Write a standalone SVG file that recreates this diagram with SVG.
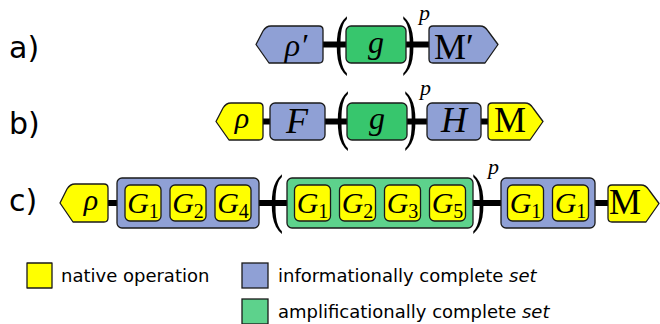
<svg xmlns="http://www.w3.org/2000/svg" width="660" height="324" viewBox="0 0 660 324">
<style>
.blue{fill:#8fa0d5;stroke:#1a1a1a;stroke-width:1.3;stroke-linejoin:round}
.yel{fill:#ffff00;stroke:#1a1a1a;stroke-width:1.3;stroke-linejoin:round}
.grn{fill:#37c66d;stroke:#1a1a1a;stroke-width:1.3;stroke-linejoin:round}
.lgrn{fill:#5dd28c;stroke:#1a1a1a;stroke-width:1.3;stroke-linejoin:round}
.bar{stroke:#000;stroke-width:6;fill:none}
.m{font-family:"Liberation Serif","Times New Roman",serif;font-style:italic;fill:#000;text-anchor:middle}
.rm{font-family:"Liberation Serif","Times New Roman",serif;fill:#000;text-anchor:middle}
.sub{font-style:normal;font-size:20px}
.par{font-family:"Liberation Serif","Times New Roman",serif;font-size:66px;fill:#000}
.sup{font-family:"Liberation Serif","Times New Roman",serif;font-style:italic;font-size:22px;fill:#000}
.lbl{font-family:"DejaVu Sans",Verdana,sans-serif;font-size:30px;fill:#000}
.leg{font-family:"DejaVu Sans",Verdana,sans-serif;font-size:18px;fill:#000}
</style>

<g id="row-labels">
<text class="lbl" x="9" y="58">a)</text>
<text class="lbl" x="9" y="134">b)</text>
<text class="lbl" x="9" y="211">c)</text>
</g>

<g id="connectors">
<line class="bar" x1="323" y1="44.5" x2="346" y2="44.5"/>
<line class="bar" x1="406" y1="44.5" x2="429" y2="44.5"/>
<line class="bar" x1="263" y1="121.5" x2="270" y2="121.5"/>
<line class="bar" x1="325" y1="121.5" x2="347" y2="121.5"/>
<line class="bar" x1="407" y1="121.5" x2="427" y2="121.5"/>
<line class="bar" x1="481" y1="121.5" x2="488" y2="121.5"/>
<line class="bar" x1="108" y1="203" x2="117" y2="203"/>
<line class="bar" x1="259" y1="203" x2="287" y2="203"/>
<line class="bar" x1="473" y1="203" x2="501" y2="203"/>
<line class="bar" x1="595" y1="203" x2="608" y2="203"/>
</g>

<!-- Row a -->
<g id="a-rho">
<path class="blue" d="M319,26 L271,26 Q266,26 263,31 L256,44.5 L269,63 L319,63 Q323,63 323,59 L323,30 Q323,26 319,26 Z"/>
<text class="m" x="296" y="56" font-size="32">ρ′</text>
</g>
<g id="a-g">
<rect class="grn" x="346" y="26" width="60" height="37" rx="5"/>
<text class="m" x="376" y="53" font-size="32">g</text>
</g>
<g id="a-paren">
<text class="par" transform="translate(335,62) scale(0.6,1)">(</text>
<text class="par" transform="translate(402,62) scale(0.6,1)">)</text>
<text class="sup" x="419" y="20">p</text>
</g>
<g id="a-M">
<path class="blue" d="M433,26 L480,26 Q485,26 488,31 L498,44.5 L485,63 L433,63 Q429,63 429,59 L429,30 Q429,26 433,26 Z"/>
<text class="rm" x="454" y="59" font-size="36">M′</text>
</g>

<!-- Row b -->
<g id="b-rho">
<path class="yel" d="M259,103 L231,103 Q226,103 223,108 L216,121.5 L229,140 L259,140 Q263,140 263,136 L263,107 Q263,103 259,103 Z"/>
<text class="m" x="242" y="128" font-size="30">ρ</text>
</g>
<g id="b-F">
<rect class="blue" x="270" y="103" width="55" height="37" rx="5"/>
<text class="m" x="297" y="133" font-size="36">F</text>
</g>
<g id="b-g">
<rect class="grn" x="347" y="103" width="60" height="37" rx="5"/>
<text class="m" x="377" y="129" font-size="32">g</text>
</g>
<g id="b-paren">
<text class="par" transform="translate(336,137) scale(0.6,1)">(</text>
<text class="par" transform="translate(404,137) scale(0.6,1)">)</text>
<text class="sup" x="420" y="95">p</text>
</g>
<g id="b-H">
<rect class="blue" x="427" y="103" width="54" height="37" rx="5"/>
<text class="m" x="454" y="132" font-size="36">H</text>
</g>
<g id="b-M">
<path class="yel" d="M492,103 L525,103 Q530,103 533,108 L543,121.5 L530,140 L492,140 Q488,140 488,136 L488,107 Q488,103 492,103 Z"/>
<text class="rm" x="510" y="132" font-size="36">M</text>
</g>

<!-- Row c -->
<g id="c-rho">
<path class="yel" d="M104,184 L75,184 Q70,184 67,189 L60,203 L73,222 L104,222 Q108,222 108,218 L108,188 Q108,184 104,184 Z"/>
<text class="m" x="91" y="210" font-size="30">ρ</text>
</g>
<g id="c-set1">
<rect class="blue" x="117" y="178" width="142" height="50" rx="5"/>
<rect class="yel" x="125" y="185" width="36" height="36" rx="5"/>
<text class="m" x="143" y="213" font-size="30">G<tspan class="sub" dy="5">1</tspan></text>
<rect class="yel" x="170" y="185" width="36" height="36" rx="5"/>
<text class="m" x="188" y="213" font-size="30">G<tspan class="sub" dy="5">2</tspan></text>
<rect class="yel" x="215" y="185" width="36" height="36" rx="5"/>
<text class="m" x="233" y="213" font-size="30">G<tspan class="sub" dy="5">4</tspan></text>
</g>
<g id="c-paren">
<text class="par" transform="translate(270,220) scale(0.6,1)">(</text>
<text class="par" transform="translate(472,220) scale(0.6,1)">)</text>
<text class="sup" x="488" y="174">p</text>
</g>
<g id="c-set2">
<rect class="lgrn" x="287" y="178" width="186" height="50" rx="5"/>
<rect class="yel" x="294.5" y="185" width="36" height="36" rx="5"/>
<text class="m" x="312.5" y="213" font-size="30">G<tspan class="sub" dy="5">1</tspan></text>
<rect class="yel" x="339.5" y="185" width="36" height="36" rx="5"/>
<text class="m" x="357.5" y="213" font-size="30">G<tspan class="sub" dy="5">2</tspan></text>
<rect class="yel" x="384.5" y="185" width="36" height="36" rx="5"/>
<text class="m" x="402.5" y="213" font-size="30">G<tspan class="sub" dy="5">3</tspan></text>
<rect class="yel" x="429.5" y="185" width="36" height="36" rx="5"/>
<text class="m" x="447.5" y="213" font-size="30">G<tspan class="sub" dy="5">5</tspan></text>
</g>
<g id="c-set3">
<rect class="blue" x="501" y="178" width="94" height="50" rx="5"/>
<rect class="yel" x="507.5" y="185" width="36" height="36" rx="5"/>
<text class="m" x="525.5" y="213" font-size="30">G<tspan class="sub" dy="5">1</tspan></text>
<rect class="yel" x="552.5" y="185" width="36" height="36" rx="5"/>
<text class="m" x="570.5" y="213" font-size="30">G<tspan class="sub" dy="5">1</tspan></text>
</g>
<g id="c-M">
<path class="yel" d="M612,185 L641,185 Q646,185 649,190 L659,203.5 L646,222 L612,222 Q608,222 608,218 L608,189 Q608,185 612,185 Z"/>
<text class="rm" x="625" y="214" font-size="36">M</text>
</g>

<!-- Legend -->
<g id="legend-native">
<rect class="yel" x="27" y="263" width="25" height="25"/>
<text class="leg" x="61" y="282">native operation</text>
</g>
<g id="legend-info">
<rect class="blue" x="242" y="263" width="26" height="25" style="stroke-linejoin:miter"/>
<text class="leg" x="278" y="282">informationally complete <tspan font-style="italic">set</tspan></text>
</g>
<g id="legend-amp">
<rect class="lgrn" x="242" y="299" width="26" height="25" style="stroke-linejoin:miter"/>
<text class="leg" x="278" y="318">amplificationally complete <tspan font-style="italic">set</tspan></text>
</g>
</svg>
